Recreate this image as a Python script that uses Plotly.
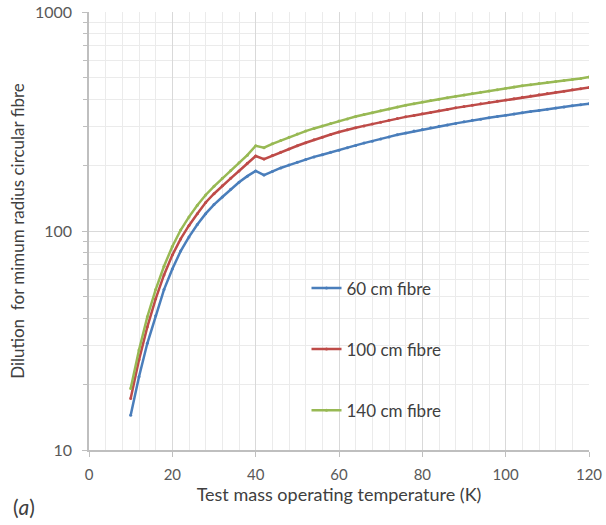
import plotly.graph_objects as go

temperature = [10, 12, 14, 16, 18, 20, 22, 24, 26, 28, 30, 32, 34, 36, 38, 40, 42, 44, 46, 48,
               50, 52, 54, 56, 58, 60, 62, 64, 66, 68, 70, 72, 74, 76, 78, 80, 82, 84, 86, 88,
               90, 92, 94, 96, 98, 100, 102, 104, 106, 108, 110, 112, 114, 116, 118, 120]

fibre_60cm = [14.4, 21.6, 30.7, 41, 54, 67, 81, 94, 107, 120, 132, 143, 155, 167, 178, 188, 180, 187, 194, 200,
              206, 212, 218, 223, 229, 234, 240, 246, 252, 257, 263, 269, 275, 280, 286, 291, 296, 301, 305, 310,
              315, 320, 324, 329, 333, 338, 342, 347, 351, 355, 360, 364, 368, 373, 377, 381]

fibre_100cm = [17.2, 25.8, 36.5, 49, 63, 77.6, 92, 106, 120, 135, 148, 161, 174, 188, 204, 220, 213, 221, 229, 237,
               245, 253, 261, 268, 276, 283, 290, 296, 302, 308, 314, 320, 326, 332, 337, 343, 348, 354, 359, 365,
               370, 375, 381, 386, 391, 396, 402, 408, 413, 419, 424, 430, 435, 441, 446, 452]

fibre_140cm = [19.1, 28.6, 40.6, 54, 69, 85, 101, 116, 131, 146, 160, 174, 189, 205, 222, 245, 240, 250, 259, 268,
               277, 286, 294, 302, 310, 318, 325, 333, 340, 347, 354, 361, 368, 375, 381, 388, 394, 400, 406, 412,
               418, 424, 430, 436, 442, 448, 454, 460, 465, 471, 476, 481, 487, 492, 497, 505]

series_names = ["60 cm fibre", "100 cm fibre", "140 cm fibre"]
series_colors = ["#4A7EBB", "#BE4B48", "#98B954"]
series_values = [fibre_60cm, fibre_100cm, fibre_140cm]

x_ticks = [0, 20, 40, 60, 80, 100, 120]
y_ticks = [10, 100, 1000]

FONT = "Lato, 'Open Sans', sans-serif"
TXT = "#595959"

fig = go.Figure()
for i, (name, col, vals) in enumerate(zip(series_names, series_colors, series_values)):
    fig.add_trace(go.Scatter(
        x=temperature, y=vals, name=name, mode="lines+markers",
        line=dict(color=col, width=2.5),
        marker=dict(color=col, size=3),
        legendgroup=f"g{i}",
    ))

fig.update_layout(
    width=606, height=525,
    margin=dict(l=89, r=17, t=12, b=75, autoexpand=False),
    paper_bgcolor="white", plot_bgcolor="white",
    font=dict(family=FONT, size=13, color=TXT),
    showlegend=True,
    legend=dict(x=0.435, y=0.41, xanchor="left", yanchor="top",
                bgcolor="rgba(0,0,0,0)", tracegroupgap=36,
                font=dict(size=17, color="#404040"),
                itemwidth=30),
    xaxis=dict(
        range=[0, 120], tickvals=x_ticks, ticktext=[str(v) for v in x_ticks],
        showgrid=True, gridcolor="#d9d9d9", gridwidth=1,
        minor=dict(dtick=4, showgrid=True, gridcolor="#ebebeb", gridwidth=1),
        showline=True, linecolor="#bfbfbf", linewidth=1.5,
        ticks="outside", ticklen=5, tickcolor="#bfbfbf",
        tickfont=dict(size=15, color=TXT), ticklabelstandoff=5,
        zeroline=False, automargin=False,
        title=dict(text="Test mass operating temperature (K)", font=dict(size=18, color="#404040"), standoff=4),
    ),
    yaxis=dict(
        type="log", range=[1, 3], tickvals=y_ticks, ticktext=[str(v) for v in y_ticks],
        showgrid=True, gridcolor="#d9d9d9", gridwidth=1,
        minor=dict(dtick="D1", showgrid=True, gridcolor="#ebebeb", gridwidth=1,
                   ticks="outside", ticklen=4, tickcolor="#bfbfbf"),
        showline=True, linecolor="#bfbfbf", linewidth=1.5,
        ticks="outside", ticklen=5, tickcolor="#bfbfbf",
        tickfont=dict(size=16, color=TXT), ticklabelstandoff=7,
        automargin=False,
        title=dict(text="Dilution  for mimum radius circular fibre", font=dict(size=17, color="#404040"), standoff=6),
    ),
)

fig.add_annotation(text="(<i>a</i>)", x=0, y=0, xref="paper", yref="paper",
                   xshift=-78, yshift=-42, xanchor="left", yanchor="top",
                   showarrow=False, font=dict(size=21, color="#404040", family=FONT))

fig.write_html("out.html")
